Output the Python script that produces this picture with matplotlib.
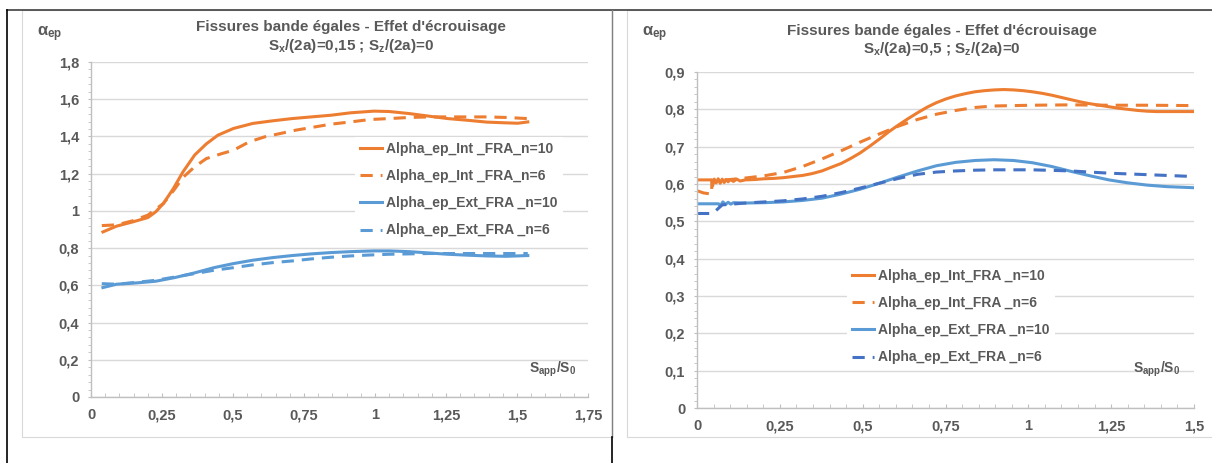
import matplotlib
matplotlib.use("Agg")
import matplotlib.pyplot as plt
from matplotlib.lines import Line2D
from matplotlib.patches import Rectangle
from matplotlib.ticker import MultipleLocator, FuncFormatter

plt.rcParams['font.family'] = ['Liberation Sans', 'DejaVu Sans']
plt.rcParams['font.weight'] = 'bold'
plt.rcParams['mathtext.fontset'] = 'custom'
plt.rcParams['mathtext.rm'] = 'Liberation Sans:bold'
plt.rcParams['mathtext.it'] = 'Liberation Sans:bold'
plt.rcParams['mathtext.bf'] = 'Liberation Sans:bold'

GRAY = '#595959'
ORANGE = '#ED7D31'
BLUE = '#5B9BD5'
DBLUE = '#4472C4'

# ---- left chart : Sx/(2a)=0,15
L_x_int10 = [0.042, 0.09, 0.145, 0.2, 0.228, 0.255, 0.29, 0.324, 0.365, 0.406, 0.447, 0.502,
             0.57, 0.64, 0.708, 0.776, 0.845, 0.914, 0.996, 1.05, 1.12, 1.19, 1.256, 1.325,
             1.394, 1.462, 1.503, 1.538]
L_y_int10 = [0.887, 0.918, 0.94, 0.964, 0.995, 1.04, 1.12, 1.21, 1.30, 1.36, 1.407, 1.443,
             1.47, 1.484, 1.496, 1.505, 1.514, 1.527, 1.536, 1.534, 1.523, 1.509, 1.496, 1.487,
             1.477, 1.473, 1.471, 1.478]
L_x_int6 = [0.038, 0.09, 0.145, 0.2, 0.255, 0.296, 0.324, 0.365, 0.406, 0.461, 0.502, 0.557,
            0.612, 0.667, 0.722, 0.776, 0.845, 0.914, 0.982, 1.05, 1.12, 1.19, 1.256, 1.325,
            1.394, 1.462, 1.538]
L_y_int6 = [0.921, 0.925, 0.946, 0.977, 1.04, 1.12, 1.18, 1.237, 1.281, 1.308, 1.326, 1.371,
            1.398, 1.416, 1.434, 1.448, 1.466, 1.478, 1.491, 1.496, 1.502, 1.505, 1.505, 1.505,
            1.505, 1.502, 1.496]
L_x_ext10 = [0.042, 0.09, 0.16, 0.228, 0.296, 0.365, 0.433, 0.502, 0.57, 0.64, 0.708, 0.776,
             0.845, 0.914, 0.996, 1.05, 1.12, 1.19, 1.256, 1.325, 1.394, 1.462, 1.538]
L_y_ext10 = [0.588, 0.606, 0.613, 0.622, 0.642, 0.667, 0.695, 0.717, 0.735, 0.749, 0.76, 0.769,
             0.776, 0.781, 0.785, 0.785, 0.781, 0.774, 0.767, 0.762, 0.758, 0.756, 0.76]
L_x_ext6 = [0.038, 0.09, 0.16, 0.228, 0.296, 0.365, 0.433, 0.502, 0.57, 0.64, 0.708, 0.776,
            0.845, 0.914, 0.982, 1.05, 1.12, 1.19, 1.256, 1.325, 1.394, 1.462, 1.538]
L_y_ext6 = [0.609, 0.606, 0.616, 0.627, 0.645, 0.663, 0.681, 0.695, 0.71, 0.722, 0.731, 0.742,
            0.751, 0.758, 0.763, 0.767, 0.769, 0.771, 0.771, 0.771, 0.771, 0.771, 0.771]

# ---- right chart : Sx/(2a)=0,5
R_x_int10 = [0.0, 0.045, 0.047, 0.052, 0.058, 0.064, 0.07, 0.076, 0.082, 0.088, 0.094, 0.1,
             0.11, 0.12, 0.13, 0.146, 0.175, 0.203, 0.232, 0.261, 0.29, 0.319, 0.348, 0.377,
             0.406, 0.435, 0.463, 0.492, 0.521, 0.55, 0.579, 0.608, 0.637, 0.666, 0.695, 0.723,
             0.752, 0.781, 0.81, 0.839, 0.868, 0.897, 0.926, 0.955, 0.984, 1.012, 1.041, 1.07,
             1.099, 1.128, 1.157, 1.186, 1.215, 1.243, 1.272, 1.301, 1.33, 1.359, 1.388, 1.417,
             1.46, 1.5]
R_y_int10 = [0.611, 0.611, 0.595, 0.613, 0.603, 0.614, 0.602, 0.613, 0.604, 0.612, 0.606, 0.612,
             0.607, 0.613, 0.608, 0.611, 0.612, 0.614, 0.615, 0.617, 0.62, 0.623, 0.628, 0.635,
             0.645, 0.655, 0.668, 0.683, 0.701, 0.72, 0.74, 0.758, 0.775, 0.791, 0.806, 0.818,
             0.828, 0.836, 0.842, 0.847, 0.85, 0.852, 0.853, 0.852, 0.85, 0.847, 0.843, 0.838,
             0.832, 0.826, 0.82, 0.815, 0.811, 0.807, 0.803, 0.8, 0.797, 0.795, 0.794, 0.794,
             0.794, 0.794]
R_x_int6 = [0.0, 0.02, 0.044, 0.045, 0.06, 0.088, 0.146, 0.203, 0.261, 0.319, 0.377, 0.435,
            0.492, 0.55, 0.608, 0.666, 0.723, 0.781, 0.839, 0.897, 1.012, 1.128, 1.243, 1.359,
            1.5]
R_y_int6 = [0.582, 0.576, 0.573, 0.607, 0.609, 0.611, 0.616, 0.622, 0.631, 0.647, 0.667, 0.689,
            0.712, 0.734, 0.755, 0.773, 0.787, 0.797, 0.805, 0.809, 0.811, 0.812, 0.811, 0.811,
            0.81]
R_x_ext10 = [0.0, 0.065, 0.07, 0.078, 0.086, 0.094, 0.102, 0.11, 0.146, 0.203, 0.261, 0.319,
             0.377, 0.435, 0.492, 0.55, 0.608, 0.666, 0.723, 0.781, 0.839, 0.897, 0.955, 1.012,
             1.07, 1.128, 1.186, 1.243, 1.301, 1.359, 1.417, 1.5]
R_y_ext10 = [0.547, 0.547, 0.541, 0.552, 0.545, 0.551, 0.546, 0.55, 0.549, 0.55, 0.552, 0.556,
             0.562, 0.573, 0.586, 0.602, 0.619, 0.635, 0.649, 0.658, 0.663, 0.665, 0.663, 0.657,
             0.647, 0.634, 0.622, 0.611, 0.603, 0.597, 0.593, 0.59]
R_x_ext6 = [0.0, 0.042, 0.05, 0.076, 0.146, 0.203, 0.261, 0.319, 0.377, 0.435, 0.492, 0.55,
            0.608, 0.666, 0.723, 0.781, 0.839, 0.897, 1.012, 1.128, 1.243, 1.359, 1.5]
R_y_ext6 = [0.521, 0.521, 0.523, 0.544, 0.549, 0.552, 0.555, 0.56, 0.567, 0.577, 0.589, 0.602,
            0.615, 0.626, 0.632, 0.635, 0.637, 0.638, 0.638, 0.635, 0.629, 0.625, 0.62]

labels_L = ['Alpha_ep_Int _FRA_n=10', 'Alpha_ep_Int _FRA_n=6',
            'Alpha_ep_Ext_FRA _n=10', 'Alpha_ep_Ext_FRA _n=6']
labels_R = ['Alpha_ep_Int_FRA _n=10', 'Alpha_ep_Int_FRA _n=6',
            'Alpha_ep_Ext_FRA _n=10', 'Alpha_ep_Ext_FRA _n=6']

W, H = 1212, 463
fig = plt.figure(figsize=(W / 100, H / 100), dpi=100)


def fx(px):
    return px / W


def fy(py):
    return 1 - py / H


# frames around the charts
fig.add_artist(Rectangle((fx(22), fy(437)), fx(590), fy(10) - fy(437), fill=False,
                         ec='#D9D9D9', lw=0.8, transform=fig.transFigure))
fig.add_artist(Rectangle((fx(627), fy(437)), fx(600), fy(10) - fy(437), fill=False,
                         ec='#D9D9D9', lw=0.8, transform=fig.transFigure))
fig.add_artist(Line2D([fx(7), fx(1212)], [fy(10), fy(10)], color='#404040', lw=1.2,
                      transform=fig.transFigure))
fig.add_artist(Line2D([fx(7), fx(7)], [fy(10), 0], color='black', lw=1.2,
                      transform=fig.transFigure))
fig.add_artist(Line2D([fx(612), fx(612)], [fy(10), fy(437)], color='#808080', lw=1.0,
                      transform=fig.transFigure))
fig.add_artist(Line2D([fx(612), fx(612)], [fy(437), 0], color='black', lw=1.2,
                      transform=fig.transFigure))

comma = FuncFormatter(lambda v, p: ('%g' % round(v, 4)).replace('.', ','))


def style(ax, xmax, xmaj, ymax, ymaj):
    ax.set_xlim(0, xmax)
    ax.set_ylim(0, ymax)
    ax.xaxis.set_major_locator(MultipleLocator(xmaj))
    ax.xaxis.set_minor_locator(MultipleLocator(xmaj / 5))
    ax.yaxis.set_major_locator(MultipleLocator(ymaj))
    ax.yaxis.set_minor_locator(MultipleLocator(ymaj / 5))
    ax.xaxis.set_major_formatter(comma)
    ax.yaxis.set_major_formatter(comma)
    ax.grid(axis='y', which='major', color='#D9D9D9', lw=1.0)
    ax.set_axisbelow(True)
    for s in ['top', 'right']:
        ax.spines[s].set_visible(False)
    for s in ['left', 'bottom']:
        ax.spines[s].set_color('#BFBFBF')
        ax.spines[s].set_linewidth(1.0)
    ax.tick_params(axis='x', which='both', direction='in', length=3, color='#BFBFBF',
                   labelsize=10.5, labelcolor=GRAY, pad=8)
    ax.tick_params(axis='y', which='both', direction='out', length=2.5, color='#BFBFBF',
                   labelsize=10.5, labelcolor=GRAY, pad=6)


# left chart
axL = fig.add_axes([fx(91), fy(397), fx(588 - 91), fy(62) - fy(397)])
style(axL, 1.75, 0.25, 1.8, 0.2)
axL.plot(L_x_int10, L_y_int10, color=ORANGE, lw=2.2, label=labels_L[0])
axL.plot(L_x_int6, L_y_int6, color=ORANGE, lw=2.2, dashes=(4, 2.6), label=labels_L[1])
axL.plot(L_x_ext10, L_y_ext10, color=BLUE, lw=2.2, label=labels_L[2])
axL.plot(L_x_ext6, L_y_ext6, color=BLUE, lw=2.2, dashes=(4, 2.6), label=labels_L[3])

# right chart
axR = fig.add_axes([fx(697), fy(408), fx(1194 - 697), fy(72) - fy(408)])
style(axR, 1.5, 0.25, 0.9, 0.1)
axR.plot(R_x_int10, R_y_int10, color=ORANGE, lw=2.2, label=labels_R[0])
axR.plot(R_x_int6, R_y_int6, color=ORANGE, lw=2.2, dashes=(4, 2.6), label=labels_R[1])
axR.plot(R_x_ext10, R_y_ext10, color=BLUE, lw=2.2, label=labels_R[2])
axR.plot(R_x_ext6, R_y_ext6, color=DBLUE, lw=2.2, dashes=(4, 2.6), label=labels_R[3])

for ax, anchor in [(axL, (fx(355), fy(137))), (axR, (fx(847), fy(264)))]:
    leg = ax.legend(loc='upper left', bbox_to_anchor=anchor, bbox_transform=fig.transFigure,
                    frameon=True, fancybox=False, edgecolor='none', facecolor='white',
                    framealpha=1, fontsize=10, handlelength=1.6, handletextpad=0.3,
                    labelspacing=0.95, borderpad=0.35, borderaxespad=0)
    for t in leg.get_texts():
        t.set_color(GRAY)

# titles and axis names
fig.text(fx(351), fy(27), "Fissures bande égales - Effet d'écrouisage", ha='center',
         va='center', fontsize=11, color=GRAY)
fig.text(fx(351), fy(46), 'S$_x$/(2a)=0,15 ; S$_z$/(2a)=0', ha='center', va='center',
         fontsize=11, color=GRAY)
fig.text(fx(942), fy(31), "Fissures bande égales - Effet d'écrouisage", ha='center',
         va='center', fontsize=11, color=GRAY)
fig.text(fx(942), fy(49), 'S$_x$/(2a)=0,5 ; S$_z$/(2a)=0', ha='center', va='center',
         fontsize=11, color=GRAY)

for x0 in (37, 642):
    fig.text(fx(x0), fy(34), 'α$_{ep}$', ha='left', va='center', fontsize=12, color=GRAY)
fig.text(fx(529), fy(369), 'S$_{app}$/S$_0$', ha='left', va='center', fontsize=10, color=GRAY)
fig.text(fx(1133), fy(369), 'S$_{app}$/S$_0$', ha='left', va='center', fontsize=10, color=GRAY)

fig.savefig('out.png', dpi=100)
